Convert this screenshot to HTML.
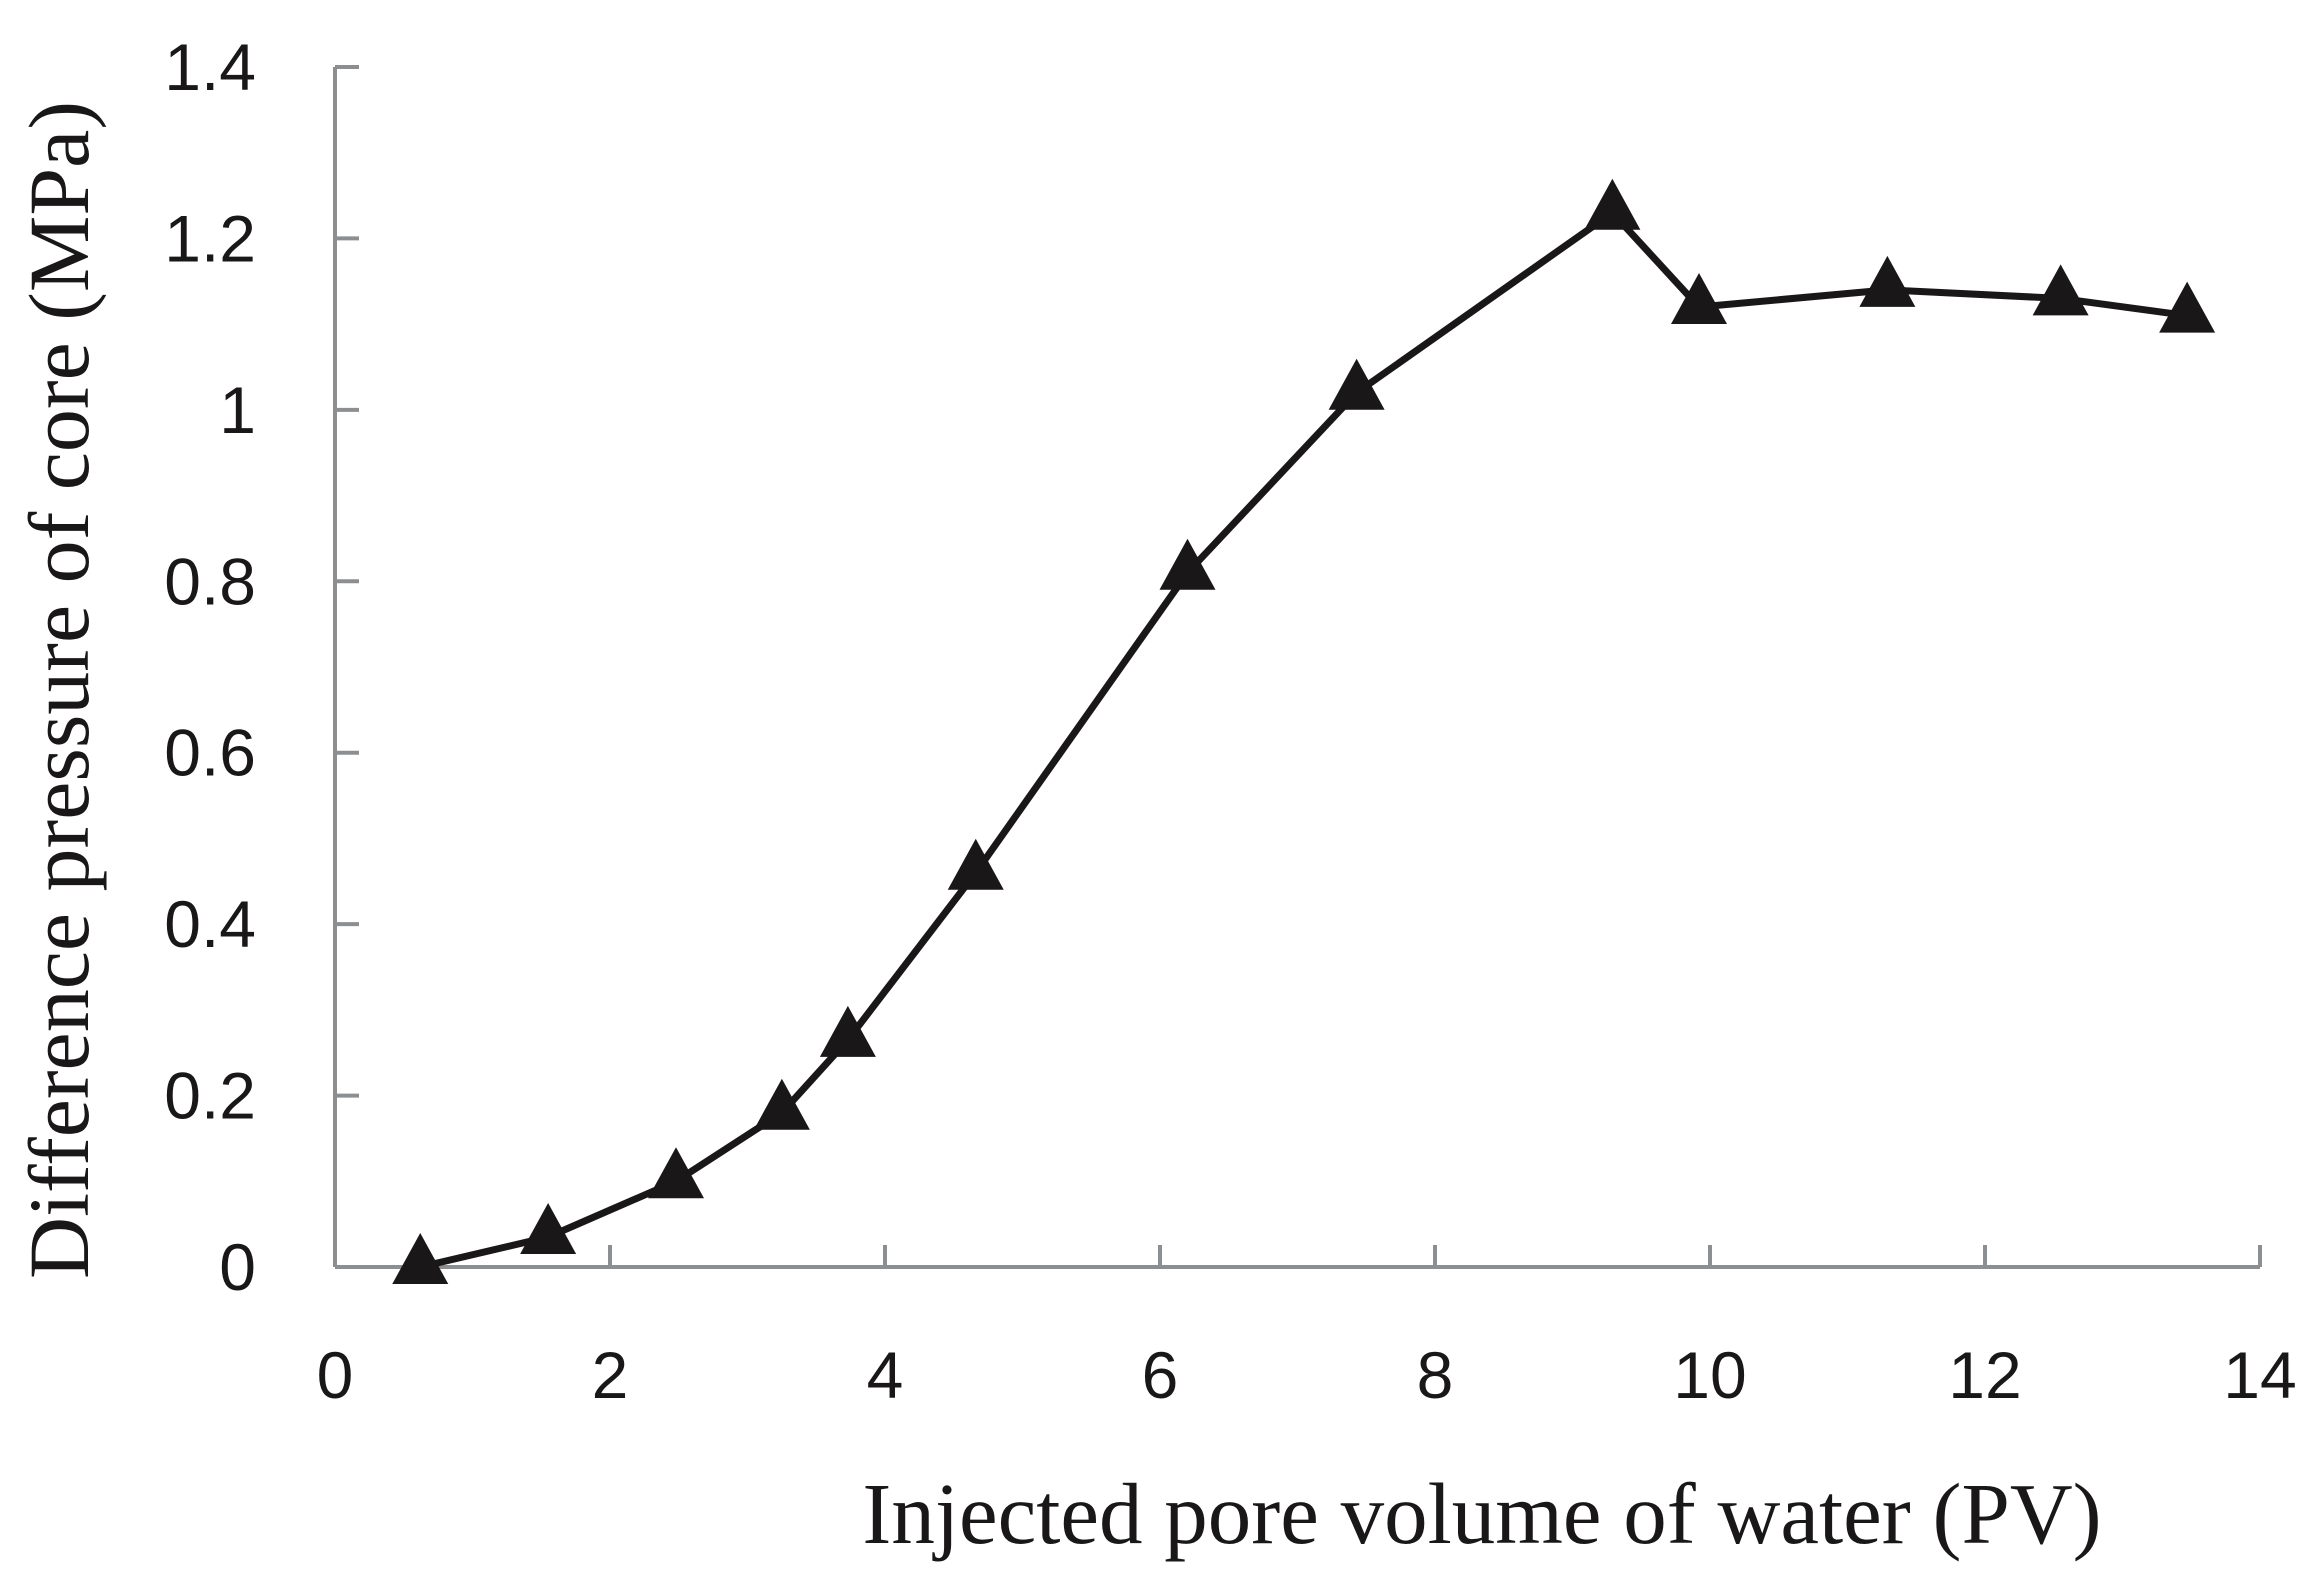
<!DOCTYPE html>
<html><head><meta charset="utf-8"><style>
html,body{margin:0;padding:0;background:#fff;}
svg{display:block;}
</style></head><body>
<svg id="chart" width="2324" height="1581" viewBox="0 0 2324 1581" xmlns="http://www.w3.org/2000/svg">
<g id="axes"></g>
<g id="series"></g>
<text transform="translate(88,690) rotate(-90)" text-anchor="middle" font-family="Liberation Serif, serif" font-size="86" fill="#1a1718">Difference pressure of core (MPa)</text>
<text x="1482" y="1543" text-anchor="middle" font-family="Liberation Serif, serif" font-size="87" fill="#1a1718">Injected pore volume of water (PV)</text>
</svg>
<script>
const xValues = [0.62, 1.55, 2.48, 3.25, 3.73, 4.66, 6.2, 7.43, 9.29, 9.92, 11.29, 12.55, 13.47];
const yValues = [0, 0.035, 0.1, 0.18, 0.265, 0.46, 0.81, 1.02, 1.23, 1.12, 1.14, 1.13, 1.11];
const xTicks = [0, 2, 4, 6, 8, 10, 12, 14];
const yTicks = [0, 0.2, 0.4, 0.6, 0.8, 1, 1.2, 1.4];
const yTickLabels = ["0", "0.2", "0.4", "0.6", "0.8", "1", "1.2", "1.4"];

const NS = "http://www.w3.org/2000/svg";
const X0 = 335, X1 = 2260, Y0 = 1267, Y1 = 67;
function sx(v){ return X0 + (v - 0) / (14 - 0) * (X1 - X0); }
function sy(v){ return Y0 - (v - 0) / (1.4 - 0) * (Y0 - Y1); }
function mk(tag, attrs){ const e = document.createElementNS(NS, tag); for (const k in attrs) e.setAttribute(k, attrs[k]); return e; }

const axes = document.getElementById('axes');
const axisColor = "#8c8f92";
const yAxis = mk('line', {x1:X0, y1:Y0, x2:X0, y2:Y1, stroke:axisColor, 'stroke-width':4});


axes.appendChild(yAxis);
const xAxis = mk('line', {x1:X0, y1:Y0, x2:X1, y2:Y0, stroke:axisColor, 'stroke-width':4});


axes.appendChild(xAxis);

yTicks.forEach((t, i) => {
  const y = sy(t);
  const tk = mk('line', {x1:X0, y1:y, x2:X0 + 24, y2:y, stroke:axisColor, 'stroke-width':4});
  
  
  axes.appendChild(tk);
  const lb = mk('text', {x:256, y:y + 23, 'text-anchor':'end', 'font-family':'Liberation Sans, sans-serif', 'font-size':66, fill:'#1a1718'});
  lb.textContent = yTickLabels[i];
  
  
  axes.appendChild(lb);
});
xTicks.forEach(t => {
  const x = sx(t);
  const tk = mk('line', {x1:x, y1:Y0, x2:x, y2:Y0 - 22, stroke:axisColor, 'stroke-width':4});
  
  
  axes.appendChild(tk);
  const lb = mk('text', {x:x, y:1398, 'text-anchor':'middle', 'font-family':'Liberation Sans, sans-serif', 'font-size':66, fill:'#1a1718'});
  lb.textContent = String(t);
  
  
  axes.appendChild(lb);
});

const series = document.getElementById('series');
const pts = xValues.map((x, i) => sx(x) + ',' + sy(yValues[i])).join(' ');
const line = mk('polyline', {points:pts, fill:'none', stroke:'#1a1718', 'stroke-width':7, 'stroke-linejoin':'round'});


series.appendChild(line);
xValues.forEach((x, i) => {
  const cx = sx(x), cy = sy(yValues[i]);
  const tri = mk('polygon', {points:`${cx},${cy-34} ${cx-28},${cy+17} ${cx+28},${cy+17}`, fill:'#1a1718'});
  
  
  series.appendChild(tri);
});
</script>
</body></html>
